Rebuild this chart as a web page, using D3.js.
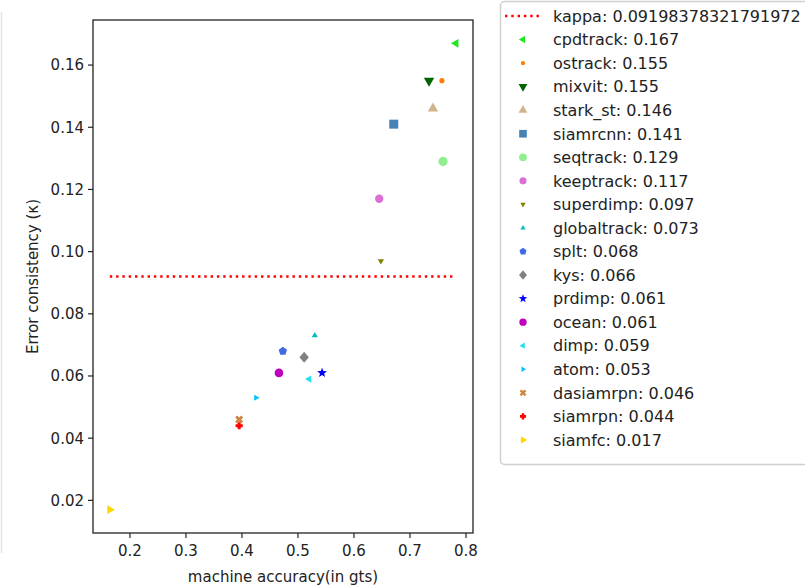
<!DOCTYPE html>
<html>
<head>
<meta charset="utf-8">
<script src="https://cdn.jsdelivr.net/npm/d3@7"></script>
<style>
  html, body { margin: 0; padding: 0; background: #fff; }
  svg { display: block; font-family: "DejaVu Sans", sans-serif; }
</style>
</head>
<body>
<svg id="chart" width="805" height="587"></svg>
<script>
// ---- data ----
const trackers = ["cpdtrack","ostrack","mixvit","stark_st","siamrcnn","seqtrack","keeptrack","superdimp","globaltrack","splt","kys","prdimp","ocean","dimp","atom","dasiamrpn","siamrpn","siamfc"];
const accuracy = [0.782,0.757,0.734,0.741,0.671,0.759,0.645,0.648,0.530,0.473,0.511,0.543,0.466,0.520,0.425,0.395,0.395,0.164];
const kappaVals = [0.167,0.155,0.155,0.146,0.141,0.129,0.117,0.097,0.073,0.068,0.066,0.061,0.061,0.059,0.053,0.046,0.044,0.017];
const markerTypes = ["triL","dot","triD","triU","square","circle","circle","triD","triU","pentagon","diamond","star","circle","triL","triR","x","plus","triR"];
const markerSizes = [5,2.6,6,6,4.5,4.6,4.2,3.6,3.6,4.4,5.5,5.2,4.3,4.2,3.6,4.2,3.6,5];
const colors = ["#22e622","#ff7f0e","#006400","#d2b48c","#4682b4","#90ee90","#da70d6","#808000","#00bfbf","#4169e1","#808080","#0000ff","#bf00bf","#22e0f0","#00bfff","#cd853f","#ff0000","#ffd700"];
const meanKappa = 0.09198378321791972;
const xTicks = [0.2,0.3,0.4,0.5,0.6,0.7,0.8];
const yTicks = [0.02,0.04,0.06,0.08,0.10,0.12,0.14,0.16];

// ---- layout ----
const svg = d3.select("#chart");
const L = 93, R = 473, T = 20, B = 533;
const x = d3.scaleLinear().domain([0.134, 0.8125]).range([L, R]);
const y = d3.scaleLinear().domain([0.0095, 0.1745]).range([B, T]);

// faint left guide line (image edge artifact)
svg.append("line").attr("x1",1.5).attr("x2",1.5).attr("y1",12).attr("y2",553)
  .attr("stroke","#e4e4e4").attr("stroke-width",1.5);

// ---- marker shapes (size = radius px) ----
function poly(ctx, pts){ ctx.moveTo(pts[0][0],pts[0][1]); for(let i=1;i<pts.length;i++) ctx.lineTo(pts[i][0],pts[i][1]); ctx.closePath(); }
function regular(n, r, rot){ const p=[]; for(let i=0;i<n;i++){const a=rot+i*2*Math.PI/n; p.push([r*Math.cos(a), r*Math.sin(a)]);} return p; }
const shapes = {
  circle:{draw(c,r){c.moveTo(r,0);c.arc(0,0,r,0,2*Math.PI);}},
  dot:{draw(c,r){c.moveTo(r,0);c.arc(0,0,r,0,2*Math.PI);}},
  square:{draw(c,r){c.rect(-r,-r,2*r,2*r);}},
  diamond:{draw(c,r){poly(c,[[0,-r],[r*0.85,0],[0,r],[-r*0.85,0]]);}},
  triU:{draw(c,r){poly(c,regular(3,r,-Math.PI/2));}},
  triD:{draw(c,r){poly(c,regular(3,r,Math.PI/2));}},
  triL:{draw(c,r){poly(c,regular(3,r,Math.PI));}},
  triR:{draw(c,r){poly(c,regular(3,r,0));}},
  pentagon:{draw(c,r){poly(c,regular(5,r,-Math.PI/2));}},
  star:{draw(c,r){const p=[];for(let i=0;i<10;i++){const a=-Math.PI/2+i*Math.PI/5;const rr=i%2?r*0.42:r;p.push([rr*Math.cos(a),rr*Math.sin(a)]);}poly(c,p);}},
  plus:{draw(c,r){const w=r*0.42;poly(c,[[-w,-r],[w,-r],[w,-w],[r,-w],[r,w],[w,w],[w,r],[-w,r],[-w,w],[-r,w],[-r,-w],[-w,-w]]);}},
  x:{draw(c,r){const w=r*0.34;const s=Math.SQRT1_2;const base=[[-w,-r],[w,-r],[w,-w],[r,-w],[r,w],[w,w],[w,r],[-w,r],[-w,w],[-r,w],[-r,-w],[-w,-w]];poly(c,base.map(([a,b])=>[(a-b)*s,(a+b)*s]));}}
};
const sym = (t, s) => d3.symbol().type(shapes[t]).size(s)();

// ---- frame & axes ----
const g = svg.append("g");
const tickColor = "#222";
xTicks.forEach(v => {
  g.append("line").attr("x1",x(v)).attr("x2",x(v)).attr("y1",B).attr("y2",B+5).attr("stroke",tickColor).attr("stroke-width",1.2);
  g.append("text").attr("x",x(v)).attr("y",B+23).attr("text-anchor","middle").attr("font-size",15).attr("fill",tickColor).text(d3.format(".1f")(v));
});
yTicks.forEach(v => {
  g.append("line").attr("x1",L-5).attr("x2",L).attr("y1",y(v)).attr("y2",y(v)).attr("stroke",tickColor).attr("stroke-width",1.2);
  g.append("text").attr("x",L-9).attr("y",y(v)).attr("dy","0.36em").attr("text-anchor","end").attr("font-size",15).attr("fill",tickColor).text(d3.format(".2f")(v));
});
g.append("text").attr("x",(L+R)/2).attr("y",582).attr("text-anchor","middle").attr("font-size",15).attr("fill",tickColor).text("machine accuracy(in gts)");
g.append("text").attr("transform",`translate(38,${(T+B)/2}) rotate(-90)`).attr("text-anchor","middle").attr("font-size",15).attr("fill",tickColor).text("Error consistency (κ)");

// kappa line
svg.append("line")
  .attr("x1",x(d3.min(accuracy))).attr("x2",x(d3.max(accuracy)))
  .attr("y1",y(meanKappa)).attr("y2",y(meanKappa))
  .attr("stroke","#ff0000").attr("stroke-width",2.4).attr("stroke-dasharray","2.4,3.9");

// points
const pts = trackers.map((n,i)=>({n, x:accuracy[i], y:kappaVals[i], t:markerTypes[i], s:markerSizes[i], c:colors[i]}));
svg.append("g").selectAll("path").data(pts.slice().reverse()).join("path")
  .attr("transform", d=>`translate(${x(d.x)},${y(d.y)})`)
  .attr("d", d=>sym(d.t,d.s))
  .attr("fill", d=>d.c);

// frame
svg.append("rect").attr("x",L).attr("y",T).attr("width",R-L).attr("height",B-T)
  .attr("fill","none").attr("stroke","#222").attr("stroke-width",1.3);

// ---- legend ----
const lg = svg.append("g");
lg.append("rect").attr("x",500.5).attr("y",1.5).attr("width",330).attr("height",463).attr("rx",4)
  .attr("fill","#fff").attr("stroke","#d0d0d0").attr("stroke-width",1.5);
const rowY = i => 16 + i*23.55;
lg.append("line").attr("x1",505).attr("x2",541).attr("y1",rowY(0)).attr("y2",rowY(0))
  .attr("stroke","#ff0000").attr("stroke-width",2.4).attr("stroke-dasharray","2.4,3.9");
lg.append("text").attr("x",553).attr("y",rowY(0)).attr("dy","0.36em").attr("font-size",16).attr("fill","#222")
  .text("kappa: " + meanKappa);
pts.forEach((d,i)=>{
  const yy = rowY(i+1);
  lg.append("path").attr("transform",`translate(523,${yy})`).attr("d",sym(d.t,d.s*0.85)).attr("fill",d.c);
  lg.append("text").attr("x",553).attr("y",yy).attr("dy","0.36em").attr("font-size",16).attr("fill","#222")
    .text(`${d.n}: ${d3.format(".3f")(d.y)}`);
});
</script>
</body>
</html>
